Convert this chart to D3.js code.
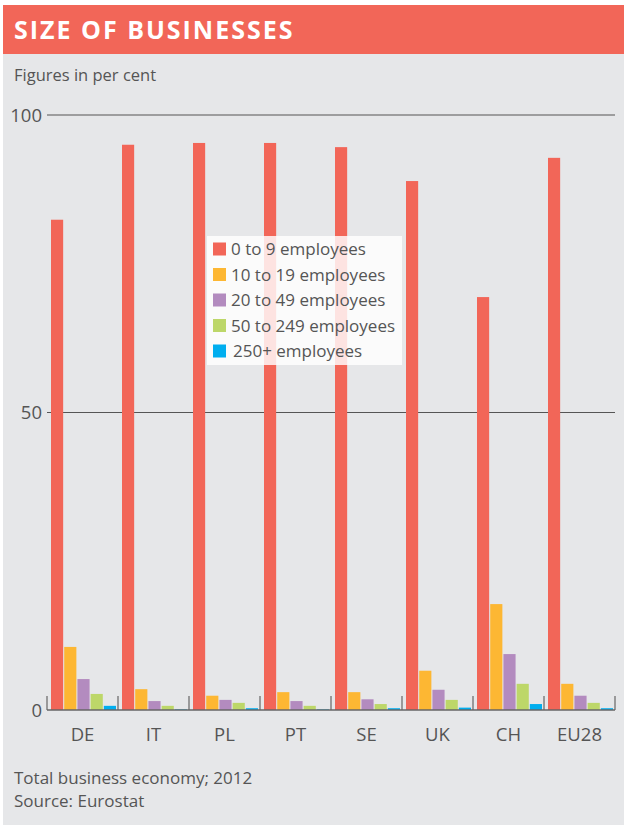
<!DOCTYPE html>
<html>
<head>
<meta charset="utf-8">
<script src="https://cdn.jsdelivr.net/npm/d3@7"></script>
<style>
  body { margin: 0; background: #fff; }
  text { font-family: "Open Sans", sans-serif; }
</style>
</head>
<body>
<div id="chart"></div>
<script>
// data
var countries = ["DE", "IT", "PL", "PT", "SE", "UK", "CH", "EU28"];
var sizeClasses = ["0 to 9 employees", "10 to 19 employees", "20 to 49 employees", "50 to 249 employees", "250+ employees"];
var micro  = [82.4, 95.0, 95.3, 95.3, 94.6, 88.9, 69.4, 92.8];
var small  = [10.6, 3.5, 2.4, 3.0, 3.0, 6.6, 17.8, 4.4];
var mid    = [5.2, 1.5, 1.7, 1.5, 1.8, 3.4, 9.4, 2.4];
var medium = [2.7, 0.7, 1.2, 0.7, 1.0, 1.7, 4.4, 1.2];
var large  = [0.7, 0.1, 0.3, 0.1, 0.3, 0.4, 1.0, 0.3];
var yTicks = [0, 50, 100];
var colors = ["#f26658", "#fdb733", "#b38bbf", "#bdd769", "#00aeef"];

var series = [micro, small, mid, medium, large];

var W = 624, H = 825;
var svg = d3.select("#chart").append("svg")
  .attr("width", W)
  .attr("height", H);

// card background + title bar
svg.append("rect").attr("x", 3).attr("y", 5).attr("width", W - 3).attr("height", H - 5).attr("fill", "#e6e7e9");
svg.append("rect").attr("x", 3).attr("y", 5).attr("width", W - 3).attr("height", 49).attr("fill", "#f26658");
svg.append("text")
  .attr("x", 14).attr("y", 39)
  .attr("fill", "#fff")
  .style("font-size", "25px")
  .style("font-weight", "bold")
  .style("letter-spacing", "2px")
  .text("SIZE OF BUSINESSES");

svg.append("text")
  .attr("x", 14).attr("y", 81)
  .attr("fill", "#555")
  .style("font-size", "16.5px")
  .text("Figures in per cent");

// scales
var plotLeft = 47, plotRight = 615, plotTop = 115, plotBottom = 710;

var x0 = d3.scaleBand()
  .domain(countries)
  .range([plotLeft, plotRight]);

var x1 = d3.scaleBand()
  .domain(d3.range(sizeClasses.length))
  .range([4, x0.bandwidth() - 2])
  .paddingInner(0.08);

var y = d3.scaleLinear()
  .domain([0, 100])
  .range([plotBottom, plotTop]);

// gridlines + y labels
var grid = svg.append("g");
grid.selectAll("line")
  .data(yTicks.filter(function (d) { return d > 0; }))
  .enter().append("line")
  .attr("x1", plotLeft).attr("x2", plotRight)
  .attr("y1", function (d) { return y(d); })
  .attr("y2", function (d) { return y(d); })
  .attr("stroke", "#555")
  .attr("stroke-width", 1.2);

grid.selectAll("text")
  .data(yTicks)
  .enter().append("text")
  .attr("x", 42)
  .attr("y", function (d) { return y(d); })
  .attr("dy", "0.36em")
  .attr("text-anchor", "end")
  .attr("fill", "#555")
  .style("font-size", "18.5px")
  .text(function (d) { return d; });

// bars
var groups = svg.append("g").selectAll("g")
  .data(countries)
  .enter().append("g")
  .attr("transform", function (d) { return "translate(" + x0(d) + ",0)"; });

groups.selectAll("rect")
  .data(function (d, i) {
    return series.map(function (s, k) { return { k: k, v: s[i] }; });
  })
  .enter().append("rect")
  .attr("x", function (d) { return x1(d.k); })
  .attr("width", x1.bandwidth())
  .attr("y", function (d) { return y(d.v); })
  .attr("height", function (d) { return y(0) - y(d.v); })
  .attr("fill", function (d) { return colors[d.k]; });

// x axis: baseline + separators between countries
var xAxis = svg.append("g");
xAxis.append("line")
  .attr("x1", plotLeft).attr("x2", plotRight)
  .attr("y1", plotBottom).attr("y2", plotBottom)
  .attr("stroke", "#666")
  .attr("stroke-width", 1.5);

xAxis.selectAll(".sep")
  .data(countries.concat(["end"]))
  .enter().append("line")
  .attr("class", "sep")
  .attr("x1", function (d, i) { return i < countries.length ? x0(d) : plotRight; })
  .attr("x2", function (d, i) { return i < countries.length ? x0(d) : plotRight; })
  .attr("y1", plotBottom - 14).attr("y2", plotBottom)
  .attr("stroke", "#666")
  .attr("stroke-width", 1.2);

xAxis.selectAll(".lbl")
  .data(countries)
  .enter().append("text")
  .attr("class", "lbl")
  .attr("x", function (d) { return x0(d) + x0.bandwidth() / 2; })
  .attr("y", 741)
  .attr("text-anchor", "middle")
  .attr("fill", "#555")
  .style("font-size", "18.5px")
  .text(function (d) { return d; });

// legend
var legend = svg.append("g").attr("transform", "translate(207,236)");
legend.append("rect")
  .attr("width", 195).attr("height", 129)
  .attr("fill", "#fff")
  .attr("fill-opacity", 0.82);

var items = legend.selectAll(".item")
  .data(sizeClasses)
  .enter().append("g")
  .attr("class", "item")
  .attr("transform", function (d, i) { return "translate(6," + (13 + i * 25.5) + ")"; });

items.append("rect")
  .attr("y", -6.5)
  .attr("width", 13).attr("height", 13)
  .attr("fill", function (d, i) { return colors[i]; });

items.append("text")
  .attr("x", function (d, i) { return i === 4 ? 20 : 18; })
  .attr("dy", "0.36em")
  .attr("fill", "#555")
  .style("font-size", "17px")
  .text(function (d) { return d; });

// footnotes
svg.append("text")
  .attr("x", 14).attr("y", 784)
  .attr("fill", "#555")
  .style("font-size", "17px")
  .text("Total business economy; 2012");
svg.append("text")
  .attr("x", 14).attr("y", 807)
  .attr("fill", "#555")
  .style("font-size", "17px")
  .text("Source: Eurostat");
</script>
</body>
</html>
